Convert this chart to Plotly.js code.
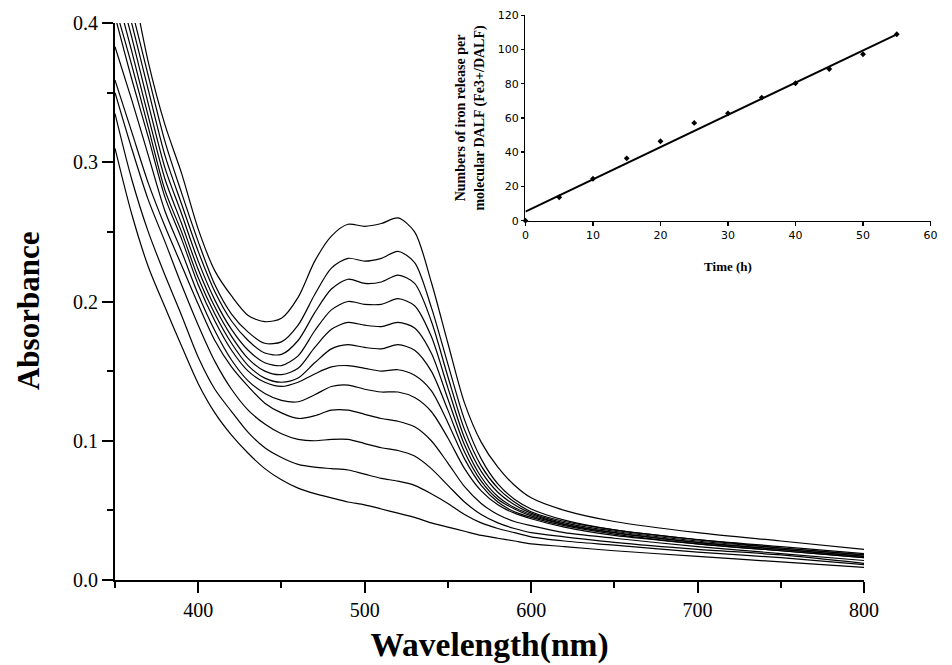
<!DOCTYPE html>
<html>
<head>
<meta charset="utf-8">
<script src="https://cdn.plot.ly/plotly-3.0.1.min.js"></script>
<style>
html,body{margin:0;padding:0;background:#fff;}
#chart{width:952px;height:665px;}
</style>
</head>
<body>
<div id="chart"></div>
<script>
// Wavelength grid (nm)
const wavelength = [350,360,370,380,390,400,410,420,430,440,450,460,470,480,490,500,510,520,530,540,550,560,570,580,590,600,620,650,700,750,800];

// Absorbance spectra (top curve = abs01 ... bottom curve = abs12)
const abs01 = [0.480,0.430,0.372,0.327,0.292,0.252,0.222,0.204,0.190,0.1855,0.188,0.203,0.229,0.247,0.2555,0.254,0.256,0.260,0.250,0.214,0.170,0.127,0.099,0.081,0.068,0.059,0.050,0.042,0.034,0.028,0.022];
const abs02 = [0.455,0.410,0.362,0.315,0.278,0.243,0.212,0.191,0.178,0.170,0.171,0.183,0.205,0.224,0.231,0.229,0.231,0.236,0.228,0.196,0.155,0.115,0.087,0.069,0.058,0.051,0.043,0.036,0.029,0.023,0.018];
const abs03 = [0.445,0.400,0.352,0.305,0.270,0.236,0.207,0.186,0.172,0.163,0.162,0.172,0.192,0.209,0.216,0.213,0.214,0.219,0.213,0.186,0.146,0.108,0.082,0.066,0.056,0.049,0.042,0.036,0.029,0.024,0.019];
const abs04 = [0.435,0.390,0.342,0.296,0.263,0.229,0.201,0.180,0.165,0.156,0.154,0.161,0.179,0.194,0.200,0.198,0.198,0.202,0.197,0.175,0.138,0.102,0.078,0.063,0.054,0.048,0.041,0.035,0.028,0.023,0.018];
const abs05 = [0.425,0.380,0.333,0.288,0.256,0.223,0.196,0.175,0.159,0.150,0.1475,0.152,0.167,0.180,0.185,0.183,0.182,0.185,0.181,0.163,0.130,0.097,0.074,0.060,0.052,0.047,0.040,0.034,0.027,0.022,0.017];
const abs06 = [0.412,0.370,0.325,0.280,0.250,0.217,0.191,0.170,0.154,0.145,0.142,0.145,0.156,0.166,0.169,0.167,0.166,0.169,0.165,0.150,0.122,0.092,0.071,0.058,0.051,0.046,0.040,0.034,0.027,0.022,0.017];
const abs07 = [0.405,0.360,0.318,0.275,0.245,0.212,0.186,0.165,0.150,0.142,0.139,0.142,0.148,0.153,0.154,0.152,0.150,0.151,0.147,0.136,0.113,0.087,0.068,0.056,0.049,0.045,0.039,0.033,0.026,0.021,0.016];
const abs08 = [0.383,0.345,0.305,0.265,0.236,0.205,0.179,0.158,0.143,0.134,0.129,0.128,0.133,0.139,0.140,0.137,0.135,0.135,0.131,0.121,0.102,0.080,0.064,0.054,0.048,0.044,0.038,0.032,0.026,0.021,0.016];
const abs09 = [0.359,0.322,0.285,0.254,0.226,0.198,0.172,0.153,0.139,0.127,0.120,0.116,0.118,0.122,0.122,0.119,0.116,0.114,0.110,0.100,0.084,0.067,0.055,0.047,0.042,0.039,0.034,0.030,0.024,0.019,0.014];
const abs10 = [0.350,0.310,0.273,0.243,0.212,0.183,0.157,0.137,0.122,0.112,0.105,0.101,0.100,0.101,0.101,0.098,0.095,0.093,0.089,0.080,0.068,0.056,0.047,0.041,0.037,0.034,0.031,0.027,0.022,0.018,0.012];
const abs11 = [0.335,0.288,0.250,0.219,0.190,0.160,0.137,0.121,0.106,0.095,0.088,0.083,0.081,0.080,0.079,0.076,0.073,0.071,0.068,0.062,0.055,0.047,0.041,0.037,0.034,0.031,0.028,0.025,0.020,0.016,0.011];
const abs12 = [0.310,0.263,0.225,0.196,0.168,0.141,0.120,0.104,0.091,0.080,0.072,0.066,0.062,0.059,0.056,0.054,0.051,0.048,0.045,0.041,0.038,0.035,0.032,0.030,0.028,0.026,0.024,0.021,0.017,0.013,0.009];

const spectra = [abs01,abs02,abs03,abs04,abs05,abs06,abs07,abs08,abs09,abs10,abs11,abs12];

// Inset: iron release vs time
const timeH = [0,5,10,15,20,25,30,35,40,45,50,55];
const ironRelease = [0,13.7,24.5,36.4,46.4,57.1,62.7,71.9,80.3,88.6,97.2,108.9];
const fitTime = [0,55];
const fitValue = [5.3,108.9];

const mainXTicks = [400,500,600,700,800];
const mainYTicks = [0.0,0.1,0.2,0.3,0.4];

const traces = spectra.map(s => ({
  type:'scatter', mode:'lines', x:wavelength, y:s,
  line:{color:'#000', width:1.2, shape:'spline', smoothing:0.8},
  xaxis:'x', yaxis:'y', showlegend:false, hoverinfo:'skip'
}));

traces.push({
  type:'scatter', mode:'lines', x:fitTime, y:fitValue,
  line:{color:'#000', width:2}, xaxis:'x2', yaxis:'y2', showlegend:false, cliponaxis:false
});
traces.push({
  type:'scatter', mode:'markers', x:timeH, y:ironRelease,
  marker:{symbol:'diamond', size:4.5, color:'#000'}, xaxis:'x2', yaxis:'y2', showlegend:false, cliponaxis:false
});

const serif = 'Liberation Serif, Times New Roman, serif';

const layout = {
  width:952, height:665,
  margin:{l:115, r:20, t:15, b:85},
  paper_bgcolor:'#fff', plot_bgcolor:'rgba(0,0,0,0)',
  showlegend:false,
  xaxis:{
    domain:[0, 0.9168], range:[350,800],
    tickvals:mainXTicks, ticktext:mainXTicks.map(String),
    ticks:'outside', ticklen:11, tickwidth:2, tickcolor:'#000',
    minor:{dtick:50, tick0:350, ticks:'outside', ticklen:6, tickwidth:2, tickcolor:'#000'},
    showline:true, linewidth:2, linecolor:'#000', showgrid:false, zeroline:false,
    tickfont:{family:serif, size:20, color:'#000'},
    title:{text:'<b>Wavelength(nm)</b>', font:{family:serif, size:33.5, color:'#000'}, standoff:13},
    anchor:'y'
  },
  yaxis:{
    domain:[0, 0.9858], range:[0,0.4],
    tickvals:mainYTicks, ticktext:mainYTicks.map(v=>v.toFixed(1)),
    ticks:'outside', ticklen:11, tickwidth:2, tickcolor:'#000',
    minor:{dtick:0.05, tick0:0, ticks:'outside', ticklen:6, tickwidth:2, tickcolor:'#000'},
    showline:true, linewidth:2, linecolor:'#000', showgrid:false, zeroline:false,
    tickfont:{family:serif, size:20, color:'#000'},
    anchor:'x'
  },
  xaxis2:{
    domain:[0.5024, 0.9982], range:[0,60], dtick:10, tick0:0,
    ticks:'outside', ticklen:4, tickwidth:1.5, tickcolor:'#000',
    showline:true, linewidth:1.5, linecolor:'#000', showgrid:false, zeroline:false,
    tickfont:{family:'DejaVu Sans, Verdana, sans-serif', size:11, color:'#000'},
    title:{text:'<b>Time (h)</b>', font:{family:serif, size:13, color:'#000'}, standoff:20},
    anchor:'y2'
  },
  yaxis2:{
    domain:[0.636, 0.9995], range:[0,120], dtick:20, tick0:0,
    ticks:'outside', ticklen:3, tickwidth:1.5, tickcolor:'#000',
    showline:true, linewidth:1.5, linecolor:'#000', showgrid:false, zeroline:false,
    tickfont:{family:'DejaVu Sans, Verdana, sans-serif', size:11, color:'#000'},
    title:{text:'<b>Numbers of iron release per<br>molecular DALF (Fe3+/DALF)</b>', font:{family:serif, size:14, color:'#000'}, standoff:10},
    anchor:'x2'
  },
  annotations:[{
    text:'<b>Absorbance</b>', textangle:-90, showarrow:false,
    xref:'paper', yref:'paper', x:-0.1065, y:0.476, xanchor:'center', yanchor:'middle',
    font:{family:serif, size:31, color:'#000'}
  }]
};

Plotly.newPlot('chart', traces, layout, {staticPlot:true, displayModeBar:false});
</script>
</body>
</html>
